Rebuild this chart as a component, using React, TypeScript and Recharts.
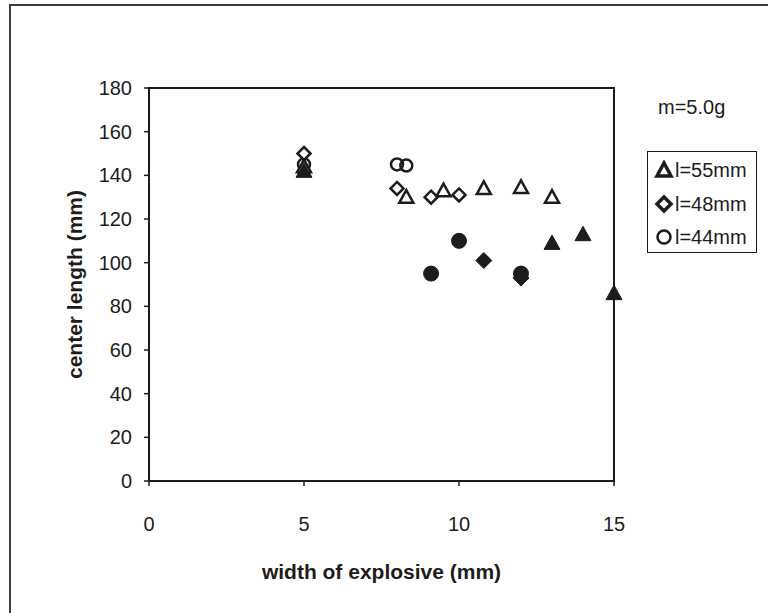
import React from 'react';
import {
  ScatterChart,
  Scatter,
  XAxis,
  YAxis,
  ReferenceArea,
  Legend,
  Label,
} from 'recharts';

// l = 55 mm
const tri55OpenX = [5, 8.3, 9.5, 10.8, 12, 13];
const tri55OpenY = [144, 130, 133, 134, 134.5, 130];
const tri55FilledX = [5, 13, 14, 15];
const tri55FilledY = [142, 109, 113, 86];

// l = 48 mm
const dia48OpenX = [5, 8, 9.1, 10];
const dia48OpenY = [150, 134, 130, 131];
const dia48FilledX = [10.8, 12];
const dia48FilledY = [101, 93];

// l = 44 mm
const cir44OpenX = [5, 8, 8.3];
const cir44OpenY = [145, 145, 144.5];
const cir44FilledX = [9.1, 10, 12];
const cir44FilledY = [95, 110, 95];

const xTicks = [0, 5, 10, 15];
const yTicks = [0, 20, 40, 60, 80, 100, 120, 140, 160, 180];
const legendItems = [
  { kind: 'triangle', label: 'l=55mm' },
  { kind: 'diamond', label: 'l=48mm' },
  { kind: 'circle', label: 'l=44mm' },
];
const massNote = 'm=5.0g';

const INK = '#1c1c1c';
const FONT = '"Liberation Sans", Arial, sans-serif';

const zip = (xs: number[], ys: number[]) => xs.map((x, i) => ({ x, y: ys[i] }));

type MarkProps = { cx?: number; cy?: number };

const Triangle = (filled: boolean) => (p: MarkProps) => {
  const { cx = 0, cy = 0 } = p;
  const h = filled ? 8 : 7;
  return (
    <polygon
      points={`${cx},${cy - h} ${cx - h},${cy + h * 0.8} ${cx + h},${cy + h * 0.8}`}
      fill={filled ? INK : '#fff'}
      stroke={INK}
      strokeWidth={filled ? 1 : 2.5}
      strokeLinejoin="miter"
    />
  );
};

const Diamond = (filled: boolean) => (p: MarkProps) => {
  const { cx = 0, cy = 0 } = p;
  const h = filled ? 8 : 6.5;
  return (
    <polygon
      points={`${cx},${cy - h} ${cx + h},${cy} ${cx},${cy + h} ${cx - h},${cy}`}
      fill={filled ? INK : '#fff'}
      stroke={INK}
      strokeWidth={filled ? 1 : 2.5}
    />
  );
};

const Circle = (filled: boolean) => (p: MarkProps) => {
  const { cx = 0, cy = 0 } = p;
  return (
    <circle
      cx={cx}
      cy={cy}
      r={filled ? 7.5 : 6}
      fill={filled ? INK : 'none'}
      stroke={INK}
      strokeWidth={filled ? 1 : 2.5}
    />
  );
};

const LegendMark = ({ kind }: { kind: string }) => (
  <svg width={20} height={20} style={{ display: 'block' }}>
    {kind === 'triangle' && (
      <polygon points="10,3 3,16 17,16" fill="#fff" stroke={INK} strokeWidth={3.5} />
    )}
    {kind === 'diamond' && (
      <polygon points="10,3 17,10 10,17 3,10" fill="#fff" stroke={INK} strokeWidth={3.5} />
    )}
    {kind === 'circle' && <circle cx={10} cy={10} r={6.5} fill="#fff" stroke={INK} strokeWidth={2.5} />}
  </svg>
);

const LegendBox = () => (
  <div style={{ position: 'relative', width: 128, height: 170, fontFamily: FONT, color: INK }}>
    <div style={{ position: 'absolute', left: 18, top: 7, fontSize: 20, lineHeight: '20px' }}>{massNote}</div>
    <div
      style={{
        position: 'absolute',
        left: 7,
        top: 61,
        width: 110,
        height: 102,
        border: `1px solid ${INK}`,
        boxSizing: 'border-box',
        background: '#fff',
      }}
    >
      {legendItems.map((it, i) => (
        <div
          key={it.label}
          style={{
            position: 'absolute',
            left: 6,
            top: 7 + i * 33.5,
            display: 'flex',
            alignItems: 'center',
            fontSize: 20,
            lineHeight: '22px',
          }}
        >
          <LegendMark kind={it.kind} />
          <span style={{ marginLeft: 1 }}>{it.label}</span>
        </div>
      ))}
    </div>
  </div>
);

export default function App() {
  const tickStyle = { fontFamily: FONT, fontSize: 20, fill: INK };
  return (
    <div style={{ position: 'absolute', left: 0, top: 0, width: 768, height: 613, background: '#fff' }}>
      <div
        style={{
          position: 'absolute',
          left: 9,
          top: 4,
          width: 757,
          height: 607,
          borderTop: '2px solid #3a3a3a',
          borderLeft: '2px solid #3a3a3a',
        }}
      />
      <div style={{ position: 'absolute', left: 0, top: 0 }}>
        <ScatterChart width={768} height={613} margin={{ top: 88, right: 154, bottom: 22, left: 0 }}>
          <XAxis
            type="number"
            dataKey="x"
            domain={[0, 15]}
            ticks={xTicks}
            height={110}
            tick={tickStyle}
            tickSize={5}
            tickMargin={31}
            axisLine={{ stroke: INK, strokeWidth: 2 }}
            tickLine={{ stroke: INK, strokeWidth: 1.5 }}
          >
            <Label
              value="width of explosive (mm)"
              position="insideBottom"
              offset={12}
              style={{ fontFamily: FONT, fontSize: 21, fontWeight: 'bold', fill: INK }}
            />
          </XAxis>
          <YAxis
            type="number"
            dataKey="y"
            domain={[0, 180]}
            ticks={yTicks}
            width={149}
            tick={tickStyle}
            tickSize={5}
            tickMargin={12}
            axisLine={{ stroke: INK, strokeWidth: 2 }}
            tickLine={{ stroke: INK, strokeWidth: 1.5 }}
          >
            <Label
              value="center length (mm)"
              position="center"
              angle={-90}
              style={{ fontFamily: FONT, fontSize: 21, fontWeight: 'bold', fill: INK, textAnchor: 'middle' }}
            />
          </YAxis>
          <ReferenceArea x1={0} x2={15} y1={0} y2={180} fill="none" stroke={INK} strokeWidth={2} />
          <Legend
            layout="horizontal"
            verticalAlign="middle"
            align="center"
            content={() => <LegendBox />}
            wrapperStyle={{ position: 'absolute', left: 640, top: 90, width: 128, height: 170 }}
          />
          <Scatter data={zip(cir44OpenX, cir44OpenY)} shape={Circle(false)} isAnimationActive={false} legendType="none" />
          <Scatter data={zip(tri55OpenX, tri55OpenY)} shape={Triangle(false)} isAnimationActive={false} legendType="none" />
          <Scatter data={zip(tri55FilledX, tri55FilledY)} shape={Triangle(true)} isAnimationActive={false} legendType="none" />
          <Scatter data={zip(dia48OpenX, dia48OpenY)} shape={Diamond(false)} isAnimationActive={false} legendType="none" />
          <Scatter data={zip(dia48FilledX, dia48FilledY)} shape={Diamond(true)} isAnimationActive={false} legendType="none" />
          <Scatter data={zip(cir44FilledX, cir44FilledY)} shape={Circle(true)} isAnimationActive={false} legendType="none" />
        </ScatterChart>
      </div>
    </div>
  );
}
